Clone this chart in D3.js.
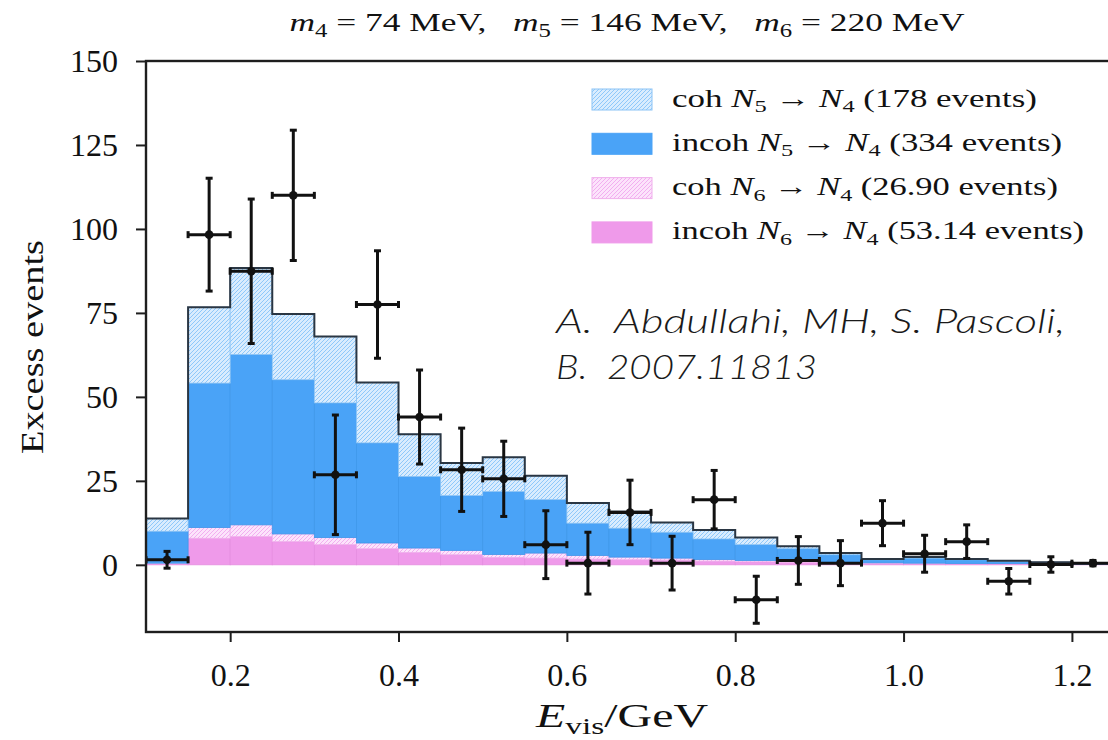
<!DOCTYPE html>
<meta charset="utf-8">
<script src="https://d3js.org/d3.v7.min.js"></script>
<style>
  body { margin: 0; background: #fff; }
  text { white-space: pre; }
</style>
<div id="my_dataviz"></div>
<script>

// bin edges (GeV) and stacked histogram contributions per bin
var binEdges = [0.10, 0.15, 0.20, 0.25, 0.30, 0.35, 0.40, 0.45, 0.50, 0.55, 0.60, 0.65,
                0.70, 0.75, 0.80, 0.85, 0.90, 0.95, 1.00, 1.05, 1.10, 1.15, 1.20, 1.25];
var incohN6 = [0.3, 7.9, 8.4, 6.9, 6.0, 4.8, 3.7, 3.0, 2.2, 2.0, 1.7, 1.5, 1.4, 1.1, 0.9, 0.7, 0.6, 0.5, 0.4, 0.3, 0.3, 0.2, 0.2];
var cohN6   = [0.2, 3.2, 3.5, 2.3, 2.1, 1.7, 1.3, 1.3, 0.9, 1.5, 1.1, 0.8, 0.6, 0.5, 0.4, 0.3, 0.2, 0.1, 0.1, 0.1, 0.1, 0.1, 0.0];
var incohN5 = [9.5, 43.0, 50.7, 45.9, 40.1, 29.8, 21.3, 16.3, 18.7, 15.9, 9.6, 8.6, 7.7, 6.1, 4.7, 3.8, 2.2, 0.9, 1.5, 1.1, 0.6, 0.3, 0.2];
var cohN5   = [3.8, 22.6, 25.8, 19.6, 19.8, 18.0, 12.6, 9.7, 10.2, 7.1, 6.0, 5.0, 2.9, 2.7, 2.1, 0.7, 0.5, 0.2, 0.3, 0.2, 0.2, 0.2, 0.1];

// data points (bin centres, value, error)
var dataX   = [0.125, 0.175, 0.225, 0.275, 0.325, 0.375, 0.425, 0.475, 0.525, 0.575, 0.625, 0.675,
               0.725, 0.775, 0.825, 0.875, 0.925, 0.975, 1.025, 1.075, 1.125, 1.175, 1.225];
var dataY   = [1.5, 98.3, 87.4, 110.0, 26.8, 77.5, 44.0, 28.3, 25.6, 6.0, 0.5, 15.6,
               0.5, 19.4, -10.4, 1.3, 0.5, 12.4, 3.3, 6.9, -4.9, 0.1, 0.5];
var dataErr = [2.5, 16.8, 21.5, 19.4, 17.8, 16.0, 14.0, 12.4, 11.2, 10.1, 9.2, 9.6,
               8.0, 8.7, 7.0, 7.1, 6.7, 6.7, 5.5, 5.0, 3.8, 2.3, 0.8];

var xTicks = [0.2, 0.4, 0.6, 0.8, 1.0, 1.2];
var yTicks = [0, 25, 50, 75, 100, 125, 150];

var legendLabels = [
  [{t: "coh "}, {t: "N", i: 1}, {t: "5", s: 1}, {t: " \u2192 "}, {t: "N", i: 1}, {t: "4", s: 1}, {t: " (178 events)"}],
  [{t: "incoh "}, {t: "N", i: 1}, {t: "5", s: 1}, {t: " \u2192 "}, {t: "N", i: 1}, {t: "4", s: 1}, {t: " (334 events)"}],
  [{t: "coh "}, {t: "N", i: 1}, {t: "6", s: 1}, {t: " \u2192 "}, {t: "N", i: 1}, {t: "4", s: 1}, {t: " (26.90 events)"}],
  [{t: "incoh "}, {t: "N", i: 1}, {t: "6", s: 1}, {t: " \u2192 "}, {t: "N", i: 1}, {t: "4", s: 1}, {t: " (53.14 events)"}]
];
var titleParts = [{t: "m", i: 1}, {t: "4", s: 1}, {t: " = 74 MeV,   "}, {t: "m", i: 1}, {t: "5", s: 1},
                  {t: " = 146 MeV,   "}, {t: "m", i: 1}, {t: "6", s: 1}, {t: " = 220 MeV"}];

var W = 1108, H = 740;
var padL = 146, padR = 1114, padT = 61, padB = 632;
var serif = "'Liberation Serif', 'DejaVu Serif', serif";

var svg = d3.select("#my_dataviz").append("svg")
  .attr("width", W).attr("height", H);

var x = d3.scaleLinear().domain([0.1, 1.25]).range([padL, padR]);
var y = d3.scaleLinear().domain([-20, 150]).range([padB, padT]);

// hatch patterns
var defs = svg.append("defs");
function hatch(id, bg, fg) {
  var p = defs.append("pattern").attr("id", id)
    .attr("patternUnits", "userSpaceOnUse").attr("width", 4).attr("height", 4);
  p.append("rect").attr("width", 4).attr("height", 4).attr("fill", bg);
  p.append("path").attr("d", "M-1,1 l2,-2 M0,4 l4,-4 M3,5 l2,-2")
    .attr("stroke", fg).attr("stroke-width", 1);
}
hatch("hatchBlue", "#d9ecfe", "#8ec8fa");
hatch("hatchPink", "#fce3fb", "#f2aef0");
defs.append("clipPath").attr("id", "plotClip")
  .append("rect").attr("x", padL).attr("y", padT).attr("width", padR - padL).attr("height", padB - padT);

var layers = [
  {key: "incohN6", fill: "#ef9aea", stroke: "#e58ee0"},
  {key: "cohN6", fill: "url(#hatchPink)", stroke: "#f0b0ec"},
  {key: "incohN5", fill: "#4aa3f7", stroke: "#3f98ea"},
  {key: "cohN5", fill: "url(#hatchBlue)", stroke: "#8cc4f6"}
];

var table = binEdges.slice(0, -1).map(function(e, i) {
  return {lo: e, hi: binEdges[i + 1], incohN6: incohN6[i], cohN6: cohN6[i], incohN5: incohN5[i], cohN5: cohN5[i]};
});
var stacked = d3.stack().keys(layers.map(function(l) { return l.key; }))(table);

var plot = svg.append("g").attr("clip-path", "url(#plotClip)");

stacked.forEach(function(series, k) {
  plot.append("g").selectAll("rect")
    .data(series)
    .enter().append("rect")
      .attr("x", function(d) { return x(d.data.lo); })
      .attr("width", function(d) { return x(d.data.hi) - x(d.data.lo); })
      .attr("y", function(d) { return y(d[1]); })
      .attr("height", function(d) { return y(d[0]) - y(d[1]); })
      .attr("fill", layers[k].fill)
      .attr("stroke", layers[k].stroke)
      .attr("stroke-width", 0.8);
});

// outline of the total
var topSeries = stacked[stacked.length - 1];
var stepPts = topSeries.map(function(d) { return [d.data.lo, d[1]]; });
stepPts.push([binEdges[binEdges.length - 1], topSeries[topSeries.length - 1][1]]);
plot.append("path")
  .attr("d", d3.line().x(function(d) { return x(d[0]); }).y(function(d) { return y(d[1]); }).curve(d3.curveStepAfter)(stepPts))
  .attr("fill", "none").attr("stroke", "#2a3643").attr("stroke-width", 2);

// data points with error bars
var pts = plot.append("g").attr("stroke", "#111").attr("stroke-width", 3).attr("fill", "#111");
dataX.forEach(function(cx, i) {
  var g = pts.append("g");
  var x0 = x(cx - 0.025), x1 = x(cx + 0.025), xc = x(cx);
  var yc = y(dataY[i]), yt = y(dataY[i] + dataErr[i]), yb = y(dataY[i] - dataErr[i]);
  g.append("line").attr("x1", x0).attr("x2", x1).attr("y1", yc).attr("y2", yc);
  g.append("line").attr("x1", xc).attr("x2", xc).attr("y1", yt).attr("y2", yb);
  g.append("line").attr("x1", xc - 3.5).attr("x2", xc + 3.5).attr("y1", yt).attr("y2", yt);
  g.append("line").attr("x1", xc - 3.5).attr("x2", xc + 3.5).attr("y1", yb).attr("y2", yb);
  g.append("line").attr("x1", x0).attr("x2", x0).attr("y1", yc - 3.5).attr("y2", yc + 3.5);
  g.append("line").attr("x1", x1).attr("x2", x1).attr("y1", yc - 3.5).attr("y2", yc + 3.5);
  g.append("circle").attr("cx", xc).attr("cy", yc).attr("r", 4.3).attr("stroke", "none");
});

// frame
svg.append("rect").attr("x", padL).attr("y", padT).attr("width", padR - padL).attr("height", padB - padT)
  .attr("fill", "none").attr("stroke", "#1e1e1e").attr("stroke-width", 2.4);

// axes
var yAxis = svg.append("g").attr("transform", "translate(" + padL + ",0)")
  .call(d3.axisLeft(y).tickValues(yTicks).tickSize(10).tickPadding(18).tickFormat(d3.format("d")));
var xAxis = svg.append("g").attr("transform", "translate(0," + padB + ")")
  .call(d3.axisBottom(x).tickValues(xTicks).tickSize(10).tickFormat(d3.format(".1f")));
[yAxis, xAxis].forEach(function(a) {
  a.select(".domain").remove();
  a.selectAll(".tick line").attr("stroke", "#1e1e1e").attr("stroke-width", 2);
  a.selectAll(".tick text").attr("font-family", serif).attr("font-size", 32).attr("fill", "#111");
});
xAxis.selectAll(".tick text").attr("y", 54).attr("dy", 0);

// text helper with italic / subscript parts
function richText(g, parts, size) {
  var t = g.append("text").attr("font-family", serif).attr("font-size", size).attr("fill", "#111");
  var shift = 0;
  parts.forEach(function(p) {
    var sp = t.append("tspan").text(p.t);
    if (p.i) sp.attr("font-style", "italic");
    if (p.s) { sp.attr("font-size", size * 0.7).attr("dy", size * 0.22 - shift); shift = size * 0.22; }
    else if (shift) { sp.attr("dy", -shift); shift = 0; }
  });
  return t;
}

// title
richText(svg, titleParts, 26)
  .attr("x", 627).attr("y", 31).attr("text-anchor", "middle")
  .attr("textLength", 675).attr("lengthAdjust", "spacingAndGlyphs");

// axis labels
richText(svg, [{t: "E", i: 1}, {t: "vis", s: 1}, {t: "/GeV"}], 33)
  .attr("x", 622).attr("y", 727).attr("text-anchor", "middle")
  .attr("textLength", 172).attr("lengthAdjust", "spacingAndGlyphs");
svg.append("text")
  .attr("transform", "translate(43,347) rotate(-90)")
  .attr("text-anchor", "middle")
  .attr("font-family", serif).attr("font-size", 32).attr("fill", "#111")
  .attr("textLength", 214).attr("lengthAdjust", "spacingAndGlyphs")
  .text("Excess events");

// legend
var legendFills = ["url(#hatchBlue)", "#4aa3f7", "url(#hatchPink)", "#ef9aea"];
var legendStroke = ["#8cc4f6", "#4aa3f7", "#f0b0ec", "#ef9aea"];
var legendWidths = [365, 390, 386, 412];
legendLabels.forEach(function(parts, i) {
  var cy = 99.5 + i * 44.3;
  svg.append("rect").attr("x", 592).attr("y", cy - 10.5).attr("width", 60).attr("height", 21)
    .attr("fill", legendFills[i]).attr("stroke", legendStroke[i]).attr("stroke-width", 1);
  richText(svg, parts, 25)
    .attr("x", 672).attr("y", cy + 7)
    .attr("textLength", legendWidths[i]).attr("lengthAdjust", "spacingAndGlyphs");
});

// citation note
var note = svg.append("g").attr("font-family", "'Helvetica Neue', Lato, 'Liberation Sans', sans-serif")
  .attr("font-style", "italic").attr("font-weight", 300).attr("font-size", 34).attr("fill", "#1a1a1a");
note.append("text").attr("x", 556).attr("y", 333).attr("textLength", 509).attr("lengthAdjust", "spacingAndGlyphs")
  .text("A.  Abdullahi, MH, S. Pascoli,");
note.append("text").attr("x", 556).attr("y", 379).attr("textLength", 261).attr("lengthAdjust", "spacingAndGlyphs")
  .text("B.  2007.11813");

</script>
